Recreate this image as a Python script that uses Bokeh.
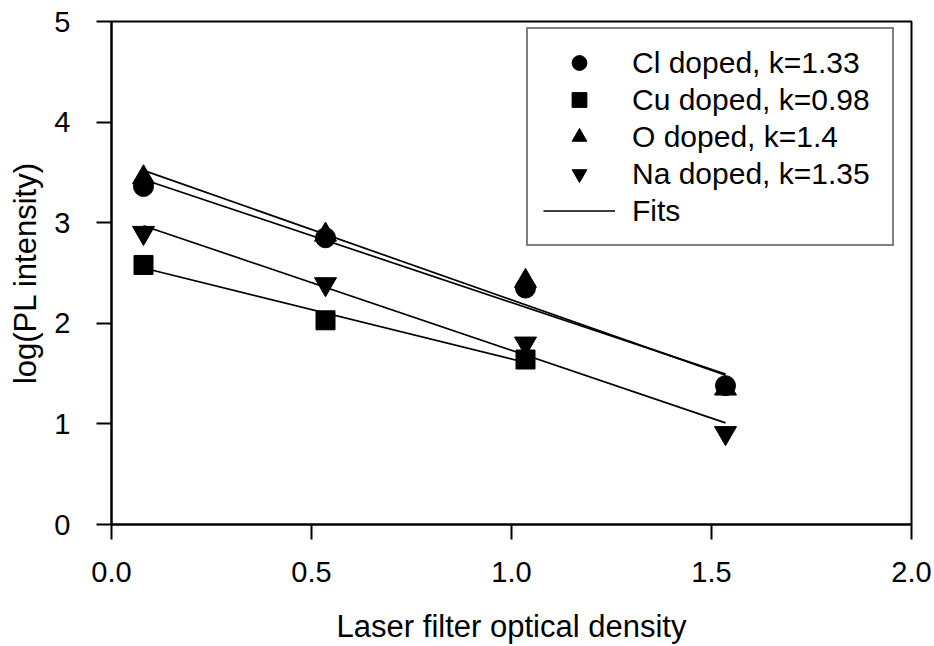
from bokeh.plotting import figure
from bokeh.models import Range1d, FixedTicker, PrintfTickFormatter, Legend, LegendItem
from bokeh.embed import file_html
from bokeh.resources import INLINE

# ---- data ----
od = [0.08, 0.535, 1.035, 1.535]          # laser filter optical density
cl = [3.36, 2.85, 2.35, 1.38]             # Cl doped
cu_od = [0.08, 0.535, 1.035]
cu = [2.58, 2.03, 1.64]                   # Cu doped
o_ = [3.45, 2.88, 2.42, 1.35]             # O doped
na = [2.90, 2.39, 1.80, 0.91]             # Na doped

# fit line end points
fit_cl_x = [0.08, 1.535]; fit_cl_y = [3.43, 1.495]
fit_o_x = [0.08, 1.535];  fit_o_y = [3.52, 1.485]
fit_cu_x = [0.08, 1.035]; fit_cu_y = [2.55, 1.61]
fit_na_x = [0.08, 1.535]; fit_na_y = [2.97, 1.01]

labels = ["Cl doped, k=1.33", "Cu doped, k=0.98", "O doped, k=1.4", "Na doped, k=1.35", "Fits"]
x_ticks = [0.0, 0.5, 1.0, 1.5, 2.0]
y_ticks = [0, 1, 2, 3, 4, 5]

FONT = "Liberation Sans"

p = figure(width=934, height=646, x_range=Range1d(0, 2), y_range=Range1d(0, 5),
           output_backend="svg", toolbar_location=None,
           min_border_left=111, min_border_right=23, min_border_top=21, min_border_bottom=121)
p.grid.visible = False
p.background_fill_color = "white"
p.border_fill_color = "white"
p.outline_line_color = "black"
p.outline_line_width = 2

for ax in (p.xaxis[0], p.yaxis[0]):
    ax.axis_line_color = "black"
    ax.axis_line_width = 2
    ax.major_tick_line_color = "black"
    ax.major_tick_line_width = 2
    ax.major_tick_out = 15
    ax.major_tick_in = 0
    ax.minor_tick_out = 0
    ax.minor_tick_in = 0
    ax.major_label_text_font = FONT
    ax.major_label_text_font_size = "29px"
    ax.major_label_text_color = "black"
    ax.axis_label_text_font = FONT
    ax.axis_label_text_font_size = "31px"
    ax.axis_label_text_font_style = "normal"
    ax.axis_label_text_color = "black"

p.xaxis.ticker = FixedTicker(ticks=x_ticks, minor_ticks=[])
p.yaxis.ticker = FixedTicker(ticks=y_ticks, minor_ticks=[])
p.xaxis.formatter = PrintfTickFormatter(format="%.1f")
p.yaxis.formatter = PrintfTickFormatter(format="%d")
p.xaxis.axis_label = "Laser filter optical density"
p.yaxis.axis_label = "log(PL intensity)"
p.xaxis.major_label_standoff = 22
p.yaxis.major_label_standoff = 26
p.xaxis.axis_label_standoff = 24
p.yaxis.axis_label_standoff = 8

# fit lines
lw = 1.7
f1 = p.line(fit_cl_x, fit_cl_y, line_color="black", line_width=lw)
p.line(fit_o_x, fit_o_y, line_color="black", line_width=lw)
p.line(fit_cu_x, fit_cu_y, line_color="black", line_width=lw)
p.line(fit_na_x, fit_na_y, line_color="black", line_width=lw)

# markers
r_cl = p.scatter(od, cl, marker="circle", size=20, fill_color="black", line_color="black")
r_cu = p.scatter(cu_od, cu, marker="square", size=19, fill_color="black", line_color="black")
r_o = p.scatter(od, o_, marker="triangle", size=22, fill_color="black", line_color="black")
r_na = p.scatter(od, na, marker="inverted_triangle", size=22, fill_color="black", line_color="black")

legend = Legend(items=[LegendItem(label=labels[0], renderers=[r_cl]),
                       LegendItem(label=labels[1], renderers=[r_cu]),
                       LegendItem(label=labels[2], renderers=[r_o]),
                       LegendItem(label=labels[3], renderers=[r_na]),
                       LegendItem(label=labels[4], renderers=[f1])],
                location=(415, 278))
legend.padding = 15
legend.glyph_height = 37
legend.glyph_width = 72
legend.spacing = 0
legend.label_height = 37
legend.label_width = 245
legend.label_standoff = 17
legend.label_text_font = FONT
legend.label_text_font_size = "30px"
legend.label_text_color = "black"
legend.border_line_color = "black"
legend.border_line_width = 2
legend.background_fill_color = "white"
legend.background_fill_alpha = 1.0
legend.margin = 0
p.add_layout(legend, "center")

open("out.html", "w").write(file_html(p, INLINE))
